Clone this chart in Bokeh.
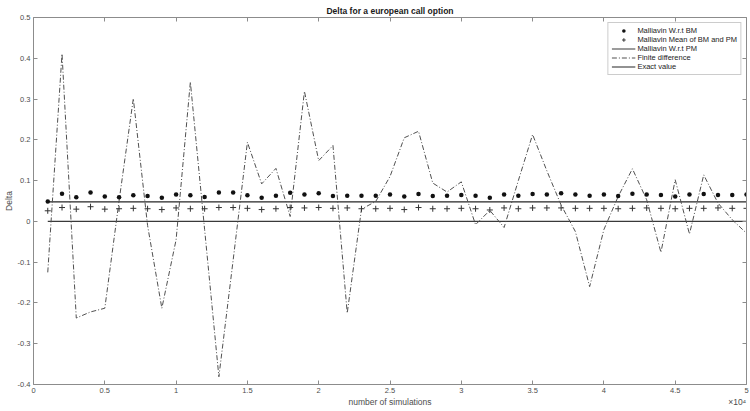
from bokeh.plotting import figure
from bokeh.models import (LinearAxis, FixedTicker, Legend, LegendItem,
                          Range1d, PrintfTickFormatter)
from bokeh.embed import file_html
from bokeh.resources import INLINE

# ---------------- data ----------------
simulations = [1000, 2000, 3000, 4000, 5000, 6000, 7000, 8000, 9000, 10000,
               11000, 12000, 13000, 14000, 15000, 16000, 17000, 18000, 19000, 20000,
               21000, 22000, 23000, 24000, 25000, 26000, 27000, 28000, 29000, 30000,
               31000, 32000, 33000, 34000, 35000, 36000, 37000, 38000, 39000, 40000,
               41000, 42000, 43000, 44000, 45000, 46000, 47000, 48000, 49000, 50000]

malliavin_bm = [0.049, 0.068, 0.059, 0.071, 0.061, 0.059, 0.064, 0.062, 0.058, 0.066,
                0.064, 0.060, 0.071, 0.071, 0.064, 0.058, 0.063, 0.070, 0.066, 0.069,
                0.062, 0.063, 0.063, 0.063, 0.066, 0.061, 0.067, 0.062, 0.063, 0.065,
                0.063, 0.058, 0.066, 0.063, 0.067, 0.066, 0.069, 0.066, 0.063, 0.066,
                0.062, 0.068, 0.066, 0.065, 0.061, 0.066, 0.067, 0.065, 0.065, 0.066]

malliavin_mean = [0.026, 0.034, 0.030, 0.036, 0.030, 0.031, 0.032, 0.031, 0.029, 0.033,
                  0.031, 0.031, 0.034, 0.034, 0.032, 0.029, 0.031, 0.034, 0.033, 0.034,
                  0.032, 0.033, 0.031, 0.031, 0.032, 0.029, 0.034, 0.031, 0.031, 0.032,
                  0.031, 0.028, 0.033, 0.031, 0.033, 0.033, 0.033, 0.032, 0.032, 0.032,
                  0.031, 0.032, 0.033, 0.032, 0.031, 0.032, 0.032, 0.033, 0.032, 0.032]

finite_difference = [-0.125, 0.411, -0.237, -0.222, -0.213, 0.050, 0.301, -0.010, -0.213, -0.045,
                     0.342, -0.020, -0.381, -0.095, 0.194, 0.092, 0.130, 0.012, 0.319, 0.149,
                     0.186, -0.225, 0.030, 0.049, 0.110, 0.205, 0.221, 0.094, 0.072, 0.097,
                     -0.008, 0.027, -0.015, 0.100, 0.213, 0.124, 0.040, -0.025, -0.160, -0.020,
                     0.061, 0.129, 0.053, -0.076, 0.102, -0.031, 0.114, 0.045, 0.004, -0.029]

pm_x = [1000, 50000]
pm_delta = [0.0, 0.0]
exact_x = [1000, 50000]
exact_delta = [0.048, 0.048]

x_ticks = [0, 5000, 10000, 15000, 20000, 25000, 30000, 35000, 40000, 45000, 50000]
x_tick_labels = ["0", "0.5", "1", "1.5", "2", "2.5", "3", "3.5", "4", "4.5", "5"]
y_ticks = [-0.4, -0.3, -0.2, -0.1, 0, 0.1, 0.2, 0.3, 0.4, 0.5]

x_label = "number of simulations"
x_exponent = "\u00d710\u2074"

# ---------------- styling ----------------
FONT = "Liberation Sans"
AXIS_COL = "#8c8c8c"
TEXT_COL = "#4d4d4d"
LINE_COL = "#262626"

p = figure(width=750, height=411, output_backend="svg", toolbar_location=None,
           x_range=Range1d(0, 50000), y_range=Range1d(-0.4, 0.5),
           min_border_left=33, min_border_right=4, min_border_top=17, min_border_bottom=27)
p.outline_line_color = None
p.grid.visible = False

p.title.text = "Delta for a european call option"
p.title.align = "center"
p.title.text_font = FONT
p.title.text_font_size = "8.5px"
p.title.text_font_style = "bold"
p.title.text_color = "#1a1a1a"
p.title.standoff = 4

def style_axis(ax, show_labels):
    ax.axis_line_color = AXIS_COL
    ax.major_tick_line_color = AXIS_COL
    ax.major_tick_in = 4
    ax.major_tick_out = 0
    ax.minor_tick_line_color = None
    ax.major_label_text_font = FONT
    ax.major_label_text_color = TEXT_COL
    ax.axis_label_text_font = FONT
    ax.axis_label_text_color = TEXT_COL
    ax.axis_label_text_font_style = "normal"
    if show_labels:
        ax.major_label_text_font_size = "7.5px"
        ax.axis_label_text_font_size = "8.5px"
        ax.major_label_standoff = 3
        ax.axis_label_standoff = 1
    else:
        ax.major_label_text_font_size = "0px"
        ax.major_label_text_color = None
        ax.major_label_standoff = 0

xt = FixedTicker(ticks=x_ticks)
yt = FixedTicker(ticks=y_ticks)
x_over = {t: l for t, l in zip(x_ticks, x_tick_labels)}

xa = p.xaxis[0]
xa.ticker = xt
xa.major_label_overrides = x_over
style_axis(xa, True)
xa.axis_label = None

# second row below the x axis: axis title (centred) and the x10^4 multiplier (right)
lab_ticks = [25000, 49350]
lab_axis = LinearAxis(ticker=FixedTicker(ticks=lab_ticks),
                      major_label_overrides={lab_ticks[0]: x_label, lab_ticks[1]: x_exponent})
lab_axis.axis_line_color = None
lab_axis.major_tick_line_color = None
lab_axis.minor_tick_line_color = None
lab_axis.major_tick_in = 0
lab_axis.major_tick_out = 0
lab_axis.major_label_standoff = 1
lab_axis.major_label_text_font = FONT
lab_axis.major_label_text_font_size = "8.5px"
lab_axis.major_label_text_color = TEXT_COL
p.add_layout(lab_axis, "below")

ya = p.yaxis[0]
ya.ticker = yt
ya.formatter = PrintfTickFormatter(format="%g")
ya.axis_label = "Delta"
style_axis(ya, True)

top = LinearAxis(ticker=xt)
style_axis(top, False)
p.add_layout(top, "above")
right = LinearAxis(ticker=yt)
style_axis(right, False)
p.add_layout(right, "right")

# ---------------- glyphs ----------------
r_pm = p.line(pm_x, pm_delta, line_color="#3a3a3a", line_width=1.2)
r_exact = p.line(exact_x, exact_delta, line_color=LINE_COL, line_width=1.2)
r_fd = p.line(simulations, finite_difference, line_color="#505050", line_width=1,
              line_dash="5 2 1 2")
r_bm = p.scatter(simulations, malliavin_bm, marker="circle", size=4.5,
                 fill_color="#111111", line_color=None)
r_mean = p.scatter(simulations, malliavin_mean, marker="cross", size=6,
                   line_color="#333333", line_width=1)

legend = Legend(items=[
    LegendItem(label="Malliavin W.r.t BM", renderers=[r_bm]),
    LegendItem(label="Malliavin Mean of BM and PM", renderers=[r_mean]),
    LegendItem(label="Malliavin W.r.t PM", renderers=[r_pm]),
    LegendItem(label="Finite difference", renderers=[r_fd]),
    LegendItem(label="Exact value", renderers=[r_exact]),
], location="top_right")
legend.label_text_font = FONT
legend.label_text_font_size = "7.5px"
legend.label_text_color = "#222222"
legend.glyph_width = 24
legend.glyph_height = 9
legend.label_height = 9
legend.label_standoff = 2
legend.spacing = 0
legend.padding = 3
legend.margin = 5
legend.border_line_color = "#9a9a9a"
legend.background_fill_color = "white"
legend.background_fill_alpha = 1
p.add_layout(legend)

open("out.html", "w").write(file_html(p, INLINE))
